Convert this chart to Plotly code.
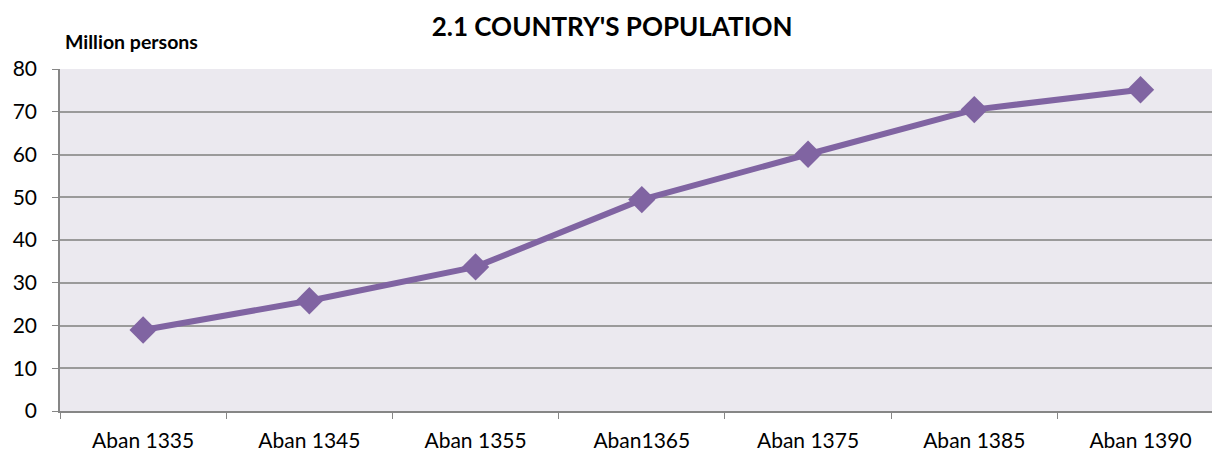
import plotly.graph_objects as go

categories = ["Aban 1335", "Aban 1345", "Aban 1355", "Aban1365", "Aban 1375", "Aban 1385", "Aban 1390"]
population = [18.95, 25.79, 33.71, 49.45, 60.06, 70.50, 75.15]
y_ticks = [0, 10, 20, 30, 40, 50, 60, 70, 80]

FONT = "Lato, 'Open Sans', sans-serif"
W, H = 1212, 455
L, R, T, B = 60, 0, 69, 44

fig = go.Figure()
fig.add_trace(go.Scatter(
    x=categories, y=population, mode="lines+markers",
    line=dict(color="#8064A2", width=6),
    marker=dict(symbol="diamond", size=21, color="#8064A2"),
    showlegend=False,
))

fig.update_layout(
    width=W, height=H,
    margin=dict(l=L, r=R, t=T, b=B),
    paper_bgcolor="white",
    plot_bgcolor="#EBE9EF",
    font=dict(family=FONT, size=20, color="#000000"),
    title=dict(text="<b>2.1 COUNTRY'S POPULATION</b>", x=0.505, xref="container",
               xanchor="center", y=1 - 27 / H, yref="container", yanchor="middle",
               font=dict(family=FONT, size=26, color="#000000")),
    xaxis=dict(
        type="category", tickson="boundaries", ticks="outside", ticklen=6,
        tickcolor="#868686", showline=True, linecolor="#868686", linewidth=1.5,
        showgrid=False, tickfont=dict(size=21), range=[-0.5, 6.43],
        ticklabelstandoff=10,
    ),
    yaxis=dict(
        range=[0, 80], tickvals=y_ticks, ticks="outside", ticklen=6,
        tickcolor="#868686", showline=True, linecolor="#868686", linewidth=1.5,
        showgrid=True, gridcolor="#9A9A9A", gridwidth=1.5, zeroline=False,
        tickfont=dict(size=21), ticklabelstandoff=11,
    ),
    annotations=[dict(
        text="<b>Million persons</b>", xref="paper", yref="paper",
        x=(63 - L) / (W - L - R), y=(411 - 42) / (H - T - B),
        xanchor="left", yanchor="middle", showarrow=False,
        font=dict(family=FONT, size=19.5),
    )],
)

fig.write_html("out.html", config={"displayModeBar": False},
               post_script="document.body.style.margin='0';document.body.style.overflow='hidden';")
